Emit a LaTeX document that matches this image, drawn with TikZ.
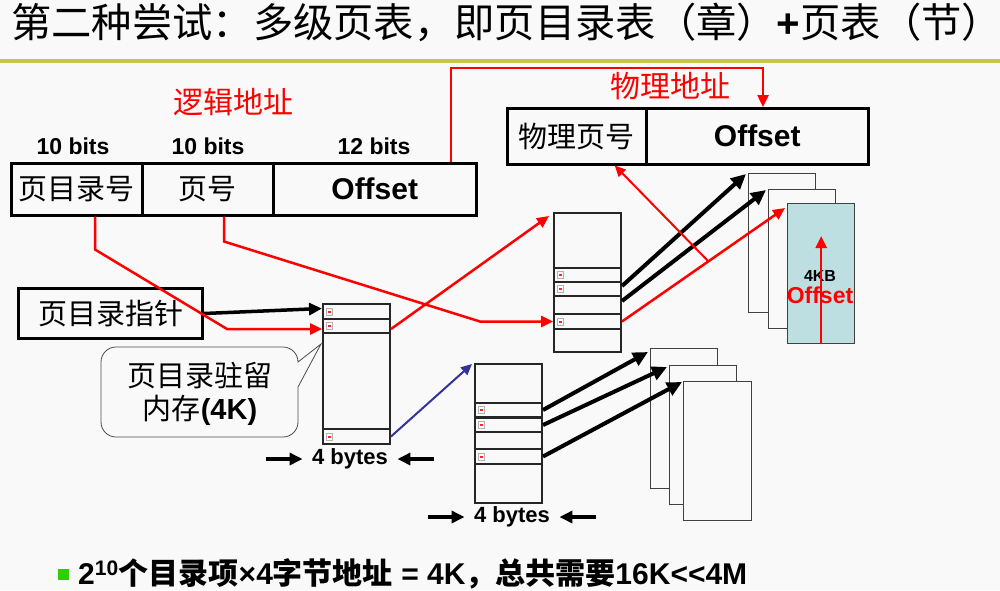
\documentclass[tikz,border=0pt]{standalone}
\usepackage{fontspec}
\setmainfont{Liberation Sans}
\newfontfamily\lat{Liberation Sans}
\newfontfamily\cjk{Noto Sans CJK SC}
\usetikzlibrary{arrows.meta,calc}
\definecolor{bgc}{HTML}{F9F9F9}
\definecolor{olivec}{HTML}{C6C644}
\definecolor{pagebl}{HTML}{BEDFE2}
\definecolor{dblue}{HTML}{333399}
\definecolor{bgreen}{HTML}{33CC00}
\newcommand{\latb}{\lat\bfseries}
\newcommand{\cjkb}{\cjk\bfseries}
\begin{document}
\begin{tikzpicture}[x=1pt,y=-1pt,
  cj/.style={font=\cjk\fontsize{#1}{#1}\selectfont},
  lb/.style={font=\latb\fontsize{#1}{#1}\selectfont},
  box/.style={draw=black, line width=2.5pt, inner sep=0pt, anchor=north west},
  tbl/.style={draw=black!85, line width=1.5pt, inner sep=0pt, anchor=north west, minimum width=67pt},
  rowc/.style={draw=black!85, line width=2pt, inner sep=0pt, anchor=north west, minimum width=67pt},
  pagec/.style={draw=black!75, line width=1.3pt, fill=bgc, inner sep=0pt, anchor=north west, minimum width=67pt},
  icon/.style={draw=gray!60, fill=white, line width=0.5pt, inner sep=0pt, minimum width=6pt, minimum height=7pt,
    path picture={\fill[red!85] ([xshift=-1.5pt,yshift=-1pt]path picture bounding box.center) rectangle ([xshift=1.5pt,yshift=1pt]path picture bounding box.center);}},
  redarr/.style={draw=red, line width=2.5pt, -{Triangle[length=12pt,width=11pt]}},
  redarrthin/.style={draw=red, line width=2pt, -{Triangle[length=11pt,width=10pt]}},
  blkarr/.style={draw=black, line width=4pt, -{Triangle[length=15pt,width=14pt]}},
  blkarrmid/.style={draw=black, line width=3.5pt, -{Triangle[length=13pt,width=12pt]}},
  bluearr/.style={draw=dblue, line width=2pt, -{Triangle[length=11pt,width=10pt]}},
]
\fill[bgc] (0,0) rectangle (1000,590);
\useasboundingbox (0,0) rectangle (1000,590);

% title
\node[anchor=west, cj=40.3, inner sep=0pt] (title) at (11,22) {第二种尝试：多级页表，即页目录表（章）{\latb+}页表（节）};
\draw[olivec, line width=4pt] (0,61) -- (1000,61);

% logical address
\node[red, cj=30] (lalbl) at (233,102) {逻辑地址};
\node[lb=23] (b1) at (73,146) {10 bits};
\node[lb=23] (b2) at (208,146) {10 bits};
\node[lb=23] (b3) at (374,146) {12 bits};
\node[box, minimum width=131pt, minimum height=52pt, cj=29] (la1) at (10,162) {页目录号};
\node[box, minimum width=131pt, minimum height=52pt, cj=29] (la2) at (141,162) {页号};
\node[box, minimum width=203pt, minimum height=52pt, lb=30] (la3) at (272,162) {Offset};

% physical address
\node[red, cj=30] (palbl) at (670,86) {物理地址};
\node[box, minimum width=139pt, minimum height=56pt, cj=29] (pa1) at (506,107) {物理页号};
\node[box, minimum width=222pt, minimum height=56pt, lb=30] (pa2) at (645,107) {Offset};

\draw[redarr] ([xshift=179pt]la3.north west) -- ++(0,-94) -| ([xshift=118pt]pa2.north west);

% page directory pointer
\node[box, line width=3pt, minimum width=184pt, minimum height=50pt, cj=29] (pdp) at (17,287) {页目录指针};

% page directory table
\node[tbl, minimum height=140pt] (pd) at (322,303) {};
\node[rowc, minimum height=15pt] (pdr1) at (322,303) {};
\node[rowc, minimum height=14pt] (pdr2) at (322,318) {};
\node[rowc, minimum height=15pt] (pdr3) at (322,428) {};

% upper page table
\node[tbl, minimum height=139pt] (pt1) at (553,212) {};
\node[rowc, minimum height=14pt] (pt1a) at (553,267) {};
\node[rowc, minimum height=14pt] (pt1b) at (553,281) {};
\node[rowc, minimum height=15pt] (pt1c) at (553,313) {};

% lower page table
\node[tbl, minimum height=139pt] (pt2) at (474,363) {};
\node[rowc, minimum height=14pt] (pt2a) at (474,402) {};
\node[rowc, minimum height=14pt] (pt2b) at (474,417) {};
\node[rowc, minimum height=15pt] (pt2c) at (474,448) {};

\foreach \r in {pdr1,pdr2,pdr3,pt1a,pt1b,pt1c,pt2a,pt2b,pt2c}
  \node[icon] at ([xshift=7pt]\r.west) {};

% upper pages
\node[pagec, minimum height=139pt] (pg1) at (748,173) {};
\node[pagec, minimum height=139pt] (pg2) at (768,189) {};
\node[pagec, fill=pagebl, minimum height=140pt] (pg3) at (787,203) {};
\node[lb=16] (kb) at (820,276) {4KB};
\draw[redarr] (pg3.south) -- ([yshift=-33pt]pg3.north);
\node[red, lb=23] (offin) at (820,295) {Offset};

% lower pages
\node[pagec, minimum height=140pt] (pg4) at (650,348) {};
\node[pagec, minimum height=139pt] (pg5) at (669,365) {};
\node[pagec, minimum width=68pt, minimum height=139pt] (pg6) at (683,381) {};

% callout
\draw[draw=black!70, line width=0.8pt, fill=bgc] (321,344) -- (298,387) [rounded corners=15pt] -- (298,437) -- (101,437) -- (101,347) -- (298,347) [sharp corners] -- (298,362) -- cycle;
\node[align=center, font=\cjk\fontsize{29}{33}\selectfont] (cl) at (200,394) {页目录驻留\\内存{\latb(4K)}};

% connectors
\draw[blkarrmid] (pdp.east) -- ([yshift=3pt]pdr1.west);
\draw[redarr] ([xshift=85pt]la1.south west) -- ++(0,33) -- ([xshift=-95pt,yshift=-3pt]pdr2.west) -- ([yshift=-3pt]pdr2.west);
\draw[redarr] ([xshift=83pt]la2.south west) -- ++(0,25) -- ([xshift=-73pt]pt1c.west) -- (pt1c.west);
\draw[redarr] ([yshift=-3pt]pdr2.east) -- ([xshift=-4pt,yshift=-4pt]pt1.north west);
\draw[bluearr] (pdr3.east) -- ([xshift=-2pt,yshift=-1pt]pt2.north west);

\draw[blkarr] ([yshift=-11pt]pt1a.east) -- ([xshift=-2pt,yshift=-1pt]pg1.north west);
\draw[blkarr] ([yshift=-12pt]pt1b.east) -- ([xshift=-2pt,yshift=-1pt]pg2.north west);
\draw[redarr] (pt1c.east) -- coordinate[pos=0.53] (phys) ([xshift=-2pt,yshift=-5pt]pg3.north west);
\draw[redarrthin] (phys) -- ([xshift=38pt]pa1.south);

\draw[blkarr] (pt2a.east) -- ([xshift=-2pt,yshift=-4pt]pg4.north west);
\draw[blkarr] (pt2b.east) -- ([xshift=-2pt,yshift=-2pt]pg5.north west);
\draw[blkarr] (pt2c.east) -- ([xshift=-1pt,yshift=-1pt]pg6.north west);

% 4 bytes
\node[lb=22] (by1) at (350,459) {4 bytes};
\draw[blkarrmid] ([xshift=-43pt]by1.west) -- ([xshift=-6pt]by1.west);
\draw[blkarrmid] ([xshift=43pt]by1.east) -- ([xshift=6pt]by1.east);
\node[lb=22] (by2) at (512,517) {4 bytes};
\draw[blkarrmid] ([xshift=-43pt]by2.west) -- ([xshift=-6pt]by2.west);
\draw[blkarrmid] ([xshift=43pt]by2.east) -- ([xshift=6pt]by2.east);

% bottom line
\node[fill=bgreen, minimum size=11pt, inner sep=0pt] (bul) at (63,574) {};
\node[anchor=west, inner sep=0pt, font=\fontsize{30}{30}\selectfont] (btm) at (78,574) {{\latb 2\textsuperscript{10}}{\cjkb 个目录项}{\latb ×4}{\cjkb 字节地址}{\latb{} = 4K}{\cjkb ，总共需要}{\latb 16K<<4M}};
\end{tikzpicture}
\end{document}
